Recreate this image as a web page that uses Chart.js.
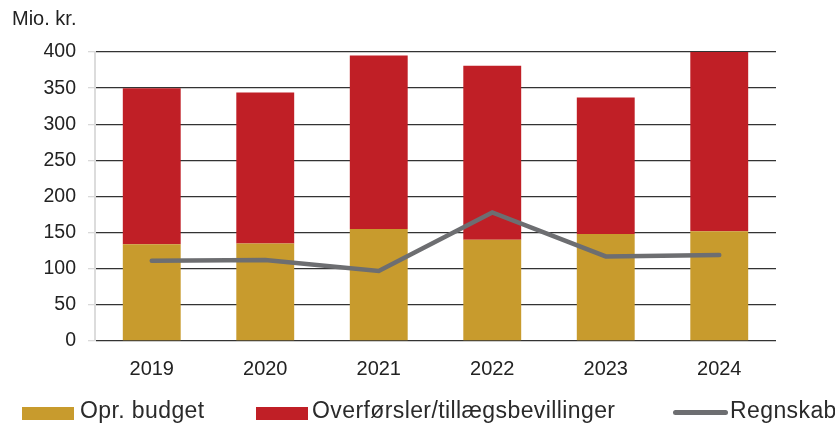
<!DOCTYPE html>
<html>
<head>
<meta charset="utf-8">
<script src="https://cdn.jsdelivr.net/npm/chart.js@4"></script>
<style>
  body { margin: 0; background: #fff; font-family: "Liberation Sans", Arial, sans-serif; }
  #wrap { position: relative; width: 835px; height: 426px; overflow: hidden; }
  #unit { position: absolute; left: 12px; top: 7px; font-size: 20px; color: #222; }
  .leg { position: absolute; top: 397px; font-size: 23px; letter-spacing: 0.4px; color: #2a2a2a; white-space: nowrap; }
  .box { position: absolute; top: 10px; width: 52px; height: 13px; }
  .lin { position: absolute; top: 13px; width: 55px; height: 5px; border-radius: 3px; background: #6d6e71; }
</style>
</head>
<body>
<div id="wrap">
  <canvas id="chart" width="835" height="426"></canvas>
  <div id="unit">Mio. kr.</div>
  <div class="leg" style="left:22px"><span class="box" style="left:0;background:#c89b2d"></span><span style="margin-left:58px">Opr. budget</span></div>
  <div class="leg" style="left:256px"><span class="box" style="left:0;background:#c01f26"></span><span style="margin-left:56px">Overførsler/tillægsbevillinger</span></div>
  <div class="leg" style="left:673px"><span class="lin" style="left:0"></span><span style="margin-left:57px">Regnskab</span></div>
</div>
<script>
// Data
const years = ["2019", "2020", "2021", "2022", "2023", "2024"];
const budget = [134, 135, 155, 140, 148, 152];
const overfoersler = [216, 209, 240, 241, 189, 248];
const regnskab = [111, 112, 97, 178, 117, 119];

const config = {
  data: {
    labels: years,
    datasets: [
      {
        type: "line",
        label: "Regnskab",
        data: regnskab,
        borderColor: "#6d6e71",
        borderWidth: 4.5,
        borderCapStyle: "round",
        pointRadius: 0,
        tension: 0,
        order: 0,
      },
      {
        type: "bar",
        label: "Opr. budget",
        data: budget,
        backgroundColor: "#c89b2d",
        categoryPercentage: 1,
        barPercentage: 0.51,
        stack: "s",
        order: 1,
      },
      {
        type: "bar",
        label: "Overførsler/tillægsbevillinger",
        data: overfoersler,
        backgroundColor: "#c01f26",
        categoryPercentage: 1,
        barPercentage: 0.51,
        stack: "s",
        order: 1,
      },
    ],
  },
  options: {
    responsive: false,
    animation: false,
    layout: { padding: { top: 52, right: 59, bottom: 45, left: 0 } },
    plugins: { legend: { display: false }, tooltip: { enabled: false } },
    scales: {
      x: {
        stacked: true,
        grid: { display: false },
        border: { display: false },
        ticks: { color: "#222", font: { family: "Liberation Sans", size: 20 }, padding: 8 },
        afterFit: (s) => { s.height = 40; },
      },
      y: {
        stacked: true,
        min: 0,
        max: 400,
        ticks: { stepSize: 50, color: "#222", font: { family: "Liberation Sans", size: 19.5 }, padding: 12 },
        grid: { color: "#333", lineWidth: 1.3, tickColor: "#d9d9d9", tickLength: 7 },
        border: { color: "#dcdcdc", width: 2 },
        afterFit: (s) => { s.width = 95; },
      },
    },
  },
};

const chart = new Chart(document.getElementById("chart"), config);
</script>
</body>
</html>
